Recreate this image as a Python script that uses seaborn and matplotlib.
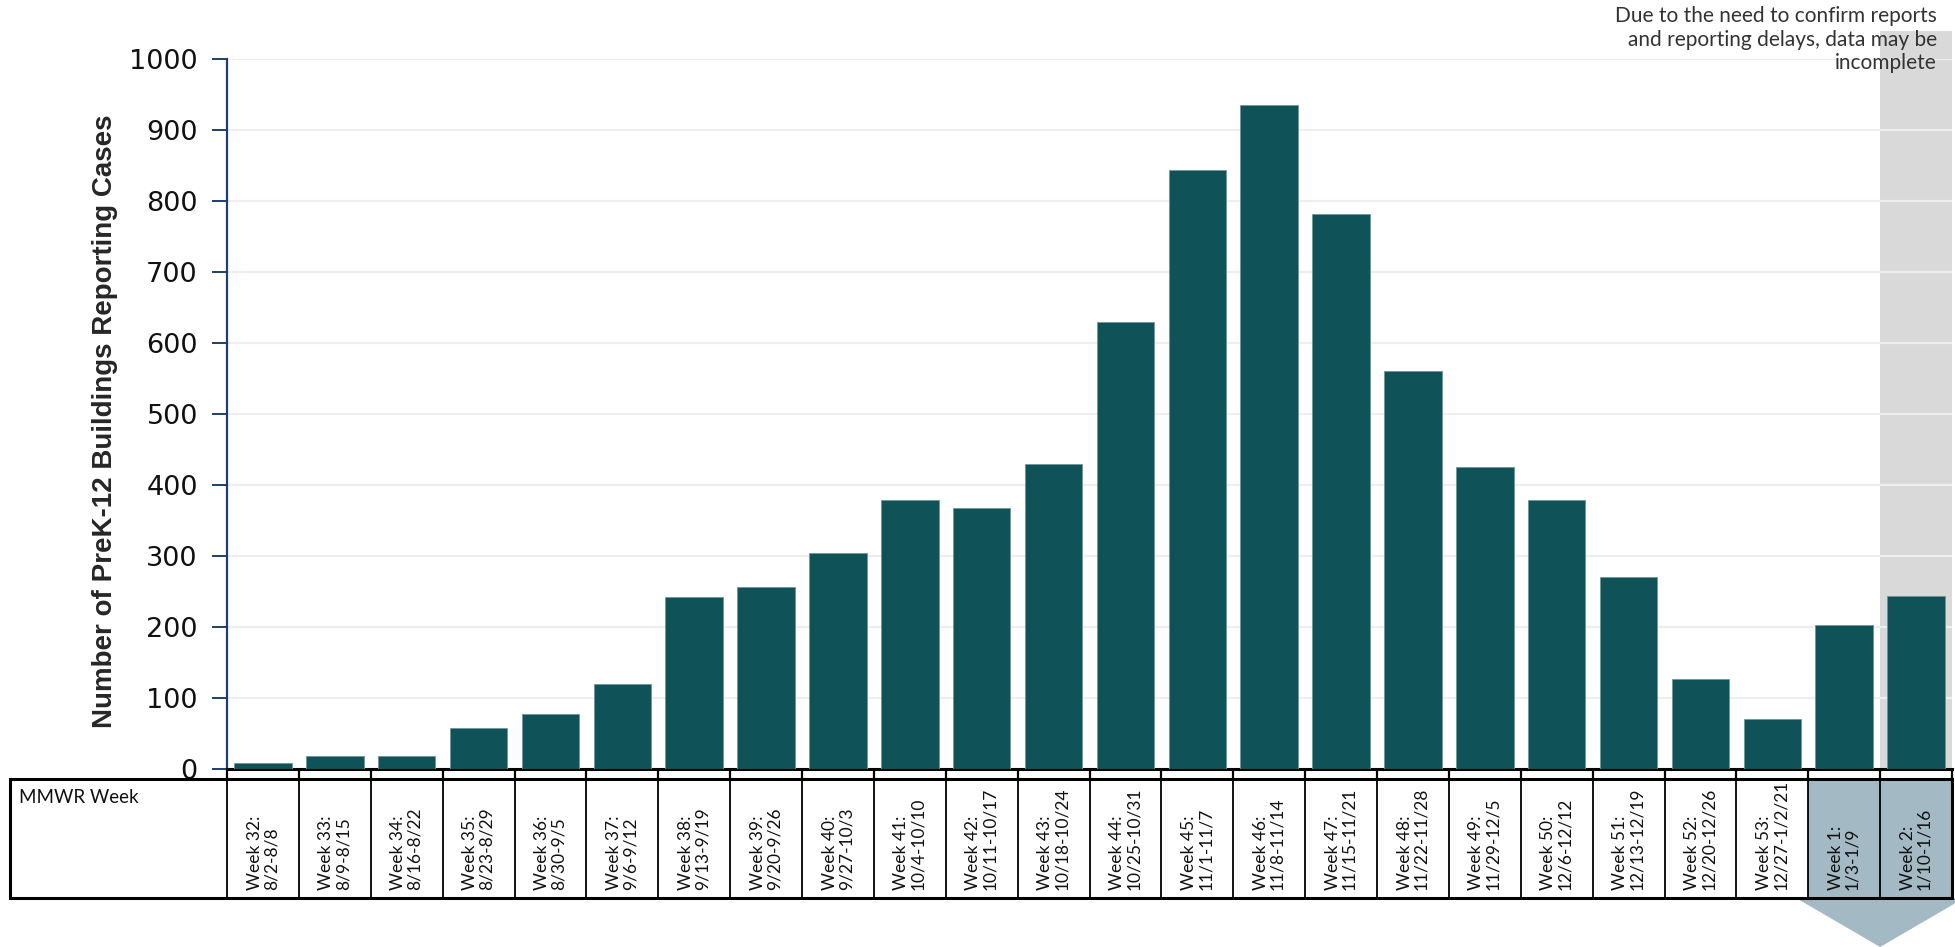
import matplotlib
matplotlib.use("Agg")
import matplotlib.pyplot as plt
from matplotlib.patches import Rectangle, Polygon
import seaborn as sns
import pandas as pd

# MMWR weeks and number of buildings reporting cases
WEEK_LABELS = [
    "Week 32:\n8/2-8/8", "Week 33:\n8/9-8/15", "Week 34:\n8/16-8/22",
    "Week 35:\n8/23-8/29", "Week 36:\n8/30-9/5", "Week 37:\n9/6-9/12",
    "Week 38:\n9/13-9/19", "Week 39:\n9/20-9/26", "Week 40:\n9/27-10/3",
    "Week 41:\n10/4-10/10", "Week 42:\n10/11-10/17", "Week 43:\n10/18-10/24",
    "Week 44:\n10/25-10/31", "Week 45:\n11/1-11/7", "Week 46:\n11/8-11/14",
    "Week 47:\n11/15-11/21", "Week 48:\n11/22-11/28", "Week 49:\n11/29-12/5",
    "Week 50:\n12/6-12/12", "Week 51:\n12/13-12/19", "Week 52:\n12/20-12/26",
    "Week 53:\n12/27-1/2/21", "Week 1:\n1/3-1/9", "Week 2:\n1/10-1/16",
]
BUILDINGS = [9, 19, 19, 58, 78, 119, 242, 256, 304, 379, 368, 430,
             629, 843, 934, 781, 560, 425, 379, 270, 126, 70, 202, 244]
INCOMPLETE_WEEKS = ["Week 1:\n1/3-1/9", "Week 2:\n1/10-1/16"]

Y_TICKS = list(range(0, 1001, 100))
NOTE = "Due to the need to confirm reports\nand reporting delays, data may be\nincomplete"

BAR_COLOR = "#0f5257"
SHADE_GREY = "#d9d9d9"
CELL_BLUE = "#a3b9c3"
AXIS_NAVY = "#1d3f6e"

sns.set_style("white")
plt.rcParams["font.family"] = ["DejaVu Sans"]

df = pd.DataFrame({"week": WEEK_LABELS, "buildings": BUILDINGS})
n = len(df)

W, H = 1955, 947
fig = plt.figure(figsize=(W / 100, H / 100), dpi=100)

# main chart, placed in pixel terms
left_px, right_px, top_px, bottom_px = 227, 1952, 58.6, 769
ax = fig.add_axes([left_px / W, 1 - bottom_px / H,
                   (right_px - left_px) / W, (bottom_px - top_px) / H])

sns.barplot(data=df, x="week", y="buildings", color=BAR_COLOR, width=0.8,
            saturation=1, edgecolor="#6f9597", linewidth=0.6, ax=ax, zorder=3)

ax.set_xlim(-0.5, n - 0.5)
ax.set_ylim(0, 1000)
ax.set_yticks(Y_TICKS)
ax.set_yticklabels([str(v) for v in Y_TICKS], fontsize=19.5, color="#111111")
ax.yaxis.grid(True, color="#eeeeee", linewidth=1.6)
ax.set_axisbelow(True)

# incomplete-data shading over the last week, rising above the plot
inc_pos = [WEEK_LABELS.index(w) for w in INCOMPLETE_WEEKS]
shade = ax.axvspan(inc_pos[-1] - 0.5, inc_pos[-1] + 0.5, ymin=0, ymax=1.039,
                   color=SHADE_GREY, zorder=0.2, lw=0)
shade.set_clip_on(False)

# x axis: boundary ticks only
ax.set_xticks([i - 0.5 for i in range(n + 1)])
ax.set_xticklabels([])
ax.set_xlabel("")
ax.tick_params(axis="x", bottom=True, direction="out", length=8, width=1.6,
               color="black")
ax.tick_params(axis="y", left=True, direction="out", length=11, width=1.4,
               color=AXIS_NAVY, pad=10)
for side in ["top", "right"]:
    ax.spines[side].set_visible(False)
ax.spines["left"].set_color(AXIS_NAVY)
ax.spines["left"].set_linewidth(1.6)
ax.spines["bottom"].set_color("black")
ax.spines["bottom"].set_linewidth(2.2)

ax.set_ylabel("Number of PreK-12 Buildings Reporting Cases", fontsize=20,
              fontweight="bold", family=["Liberation Sans Narrow", "Liberation Sans"])
ax.yaxis.set_label_coords(-0.063, 0.49)

# note above the shaded week
fig.text(1937 / W, 1 - 6 / H, NOTE, ha="right", va="top", fontsize=15,
         family=["Lato", "DejaVu Sans"], linespacing=1.22, color="#333333")

# MMWR week table under the chart
tab_top, tab_bot = 779, 898
px_per_cat = (right_px - left_px) / n
x0 = -0.5 - (left_px - 10) / px_per_cat
tax = fig.add_axes([10 / W, 0, (right_px - 10) / W, (H - tab_top) / H])
tax.set_xlim(x0, n - 0.5)
tab_h = tab_bot - tab_top
tax.set_ylim(-(H - tab_bot) / tab_h, 1)
tax.axis("off")

for p in inc_pos:
    tax.add_patch(Rectangle((p - 0.5, 0), 1, 1, facecolor=CELL_BLUE,
                            edgecolor="none", zorder=1))
tax.vlines([i - 0.5 for i in range(n + 1)], 0, 1, color="black", lw=1.3, zorder=2)
tax.add_patch(Rectangle((x0, 0), n - 0.5 - x0, 1, fill=False,
                        edgecolor="black", lw=2.2, zorder=3, clip_on=False))

tax.text(x0 + 0.12, 0.92, "MMWR Week", ha="left", va="top", fontsize=13.5,
         family=["Lato", "DejaVu Sans"], color="#111111")
for i, lab in enumerate(WEEK_LABELS):
    tax.text(i, 0.07, lab, rotation=90, ha="center", va="bottom",
             multialignment="left", fontsize=12.5, linespacing=1.05,
             family=["Lato", "DejaVu Sans"], color="#111111", zorder=4)

# arrow pointing down from the incomplete weeks
mid = (inc_pos[0] + inc_pos[-1]) / 2
arrow = Polygon([(mid - 1.17, 0), (mid + 1.17, 0), (mid, -(H - tab_bot) / tab_h)],
                closed=True, facecolor=CELL_BLUE, edgecolor="none", clip_on=False)
tax.add_patch(arrow)

fig.savefig("out.png", dpi=100)
